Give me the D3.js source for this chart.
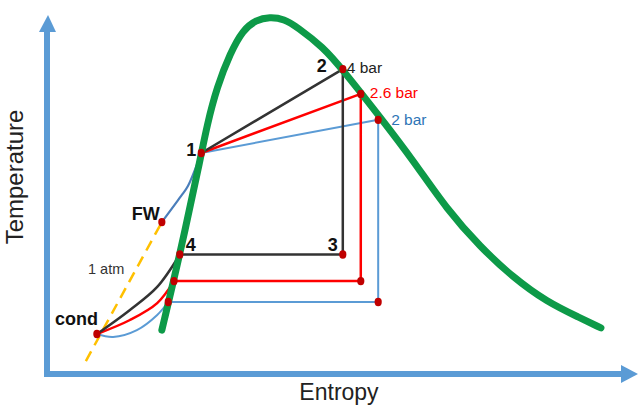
<!DOCTYPE html>
<html><head><meta charset="utf-8">
<script src="https://cdn.jsdelivr.net/npm/d3@7"></script>
<style>body{margin:0;background:#fff}svg{display:block}</style>
</head><body>
<svg id="c" width="640" height="406"></svg>
<script>
// Saturation dome (entropy s, temperature T) in arbitrary units
const domeS = [19.8,22.9,26.4,27.6,29.3,31.6,33.8,36.0,38.4,40.9,43.1,47.6,50.9,57.8,63.1,69.0,74.7,80.3,86.2,91.9,95.5];
const domeT = [12.2,33.1,59.4,69.2,79.7,89.2,95.6,98.3,99.2,98.6,96.4,90.8,84.7,70.6,59.4,45.6,35.3,26.9,20.0,15.6,12.8];

// Cycle states per pressure
const pressures = ["4 bar","2.6 bar","2 bar"];
const state1 = [26.6, 61.4];
const state2S = [51.0, 54.1, 57.1];
const state2T = [84.7, 77.8, 70.6];
const state3T = [33.2, 25.8, 20.0];
const state4S = [22.9, 21.9, 20.9];
const cond = [8.6, 11.1];
const fw = [19.8, 42.2];
// pump/condensate curves (cond -> state 4) intermediate points
const curveS = [[14.3,19.0],[14.3,19.0],[11.4,15.5,19.0]];
const curveT = [[17.8,24.2],[15.0,19.7],[10.3,12.2,16.4]];
// feedwater heating line FW -> 1
const fwLineS = [23.1, 24.3];
const fwLineT = [49.4, 52.2];
// 1 atm line
const atmS = [6.7, 19.8];
const atmT = [3.6, 42.2];

const lineColors = ["#333333","#ff0000","#5b9bd5"];
const labelColors = ["#222222","#ff0000","#2e75b6"];

const svg = d3.select("#c");
const x = d3.scaleLinear().domain([0,100]).range([47,627]);
const y = d3.scaleLinear().domain([0,100]).range([374,14]);
const line = d3.line().x(d=>x(d[0])).y(d=>y(d[1]));
const curved = d3.line().x(d=>x(d[0])).y(d=>y(d[1])).curve(d3.curveCatmullRom.alpha(0.5));
const smooth = d3.line().x(d=>x(d[0])).y(d=>y(d[1])).curve(d3.curveBasis);
const FONT = "'Liberation Sans', Arial, sans-serif";

// axes
const axC = "#5b9bd5";
svg.append("path").attr("d", `M${x(0)},${y(0)+3}V${y(100)+18}`)
  .attr("stroke",axC).attr("stroke-width",6).attr("fill","none");
svg.append("path").attr("d", `M${x(0)-8},${y(100)+18}L${x(0)+1},${y(100)+1}L${x(0)+9},${y(100)+18}Z`).attr("fill",axC);
svg.append("path").attr("d", `M${x(0)-3},${y(0)}H${x(100)-5}`)
  .attr("stroke",axC).attr("stroke-width",6).attr("fill","none");
svg.append("path").attr("d", `M${x(100)-6},${y(0)-9}L${x(100)+11},${y(0)}L${x(100)-6},${y(0)+9}Z`).attr("fill",axC);

svg.append("text").attr("transform",`translate(23,177) rotate(-90)`)
  .attr("text-anchor","middle").attr("font-family",FONT).attr("font-size",24).attr("fill","#222").text("Temperature");
svg.append("text").attr("x",339).attr("y",400)
  .attr("text-anchor","middle").attr("font-family",FONT).attr("font-size",23).attr("fill","#222").text("Entropy");

// 1 atm dashed
svg.append("path").attr("d", line(atmS.map((s,i)=>[s,atmT[i]])))
  .attr("stroke","#ffc000").attr("stroke-width",2.5).attr("stroke-dasharray","11,7").attr("fill","none");

// FW -> 1 line
svg.append("path").attr("d", curved([fw, ...fwLineS.map((s,i)=>[s,fwLineT[i]]), state1]))
  .attr("stroke","#4a7ebb").attr("stroke-width",2.2).attr("fill","none");

// cycles (draw blue first, black last)
[2,1,0].forEach(i=>{
  const c = lineColors[i];
  const w = i===2 ? 2 : 2.5;
  svg.append("path").attr("d", line([state1,[state2S[i],state2T[i]],[state2S[i],state3T[i]],[state4S[i],state3T[i]]]))
    .attr("stroke",c).attr("stroke-width",w).attr("fill","none").attr("stroke-linejoin","round");
  const pts = [cond, ...curveS[i].map((s,k)=>[s,curveT[i][k]]), [state4S[i],state3T[i]]];
  svg.append("path").attr("d", curved(pts))
    .attr("stroke",c).attr("stroke-width",w).attr("fill","none");
});

// dome
svg.append("path").attr("d", smooth(domeS.map((s,i)=>[s,domeT[i]])))
  .attr("stroke","#0d9a48").attr("stroke-width",7).attr("fill","none").attr("stroke-linecap","round");

// dots
const dots = [state1, cond, fw];
pressures.forEach((p,i)=>{
  dots.push([state2S[i],state2T[i]],[state2S[i],state3T[i]],[state4S[i],state3T[i]]);
});
svg.selectAll("ellipse.dot").data(dots).join("ellipse").attr("class","dot")
  .attr("cx",d=>x(d[0])).attr("cy",d=>y(d[1])).attr("rx",3.6).attr("ry",4.2).attr("fill","#c00000");

// labels
const bold = (t,px,py,anchor)=>svg.append("text").attr("x",px).attr("y",py).attr("text-anchor",anchor||"start")
  .attr("font-family",FONT).attr("font-weight","bold").attr("font-size",18).attr("fill","#111").text(t);
bold("1", x(state1[0])-5, y(state1[1])+3, "end");
bold("2", x(state2S[0])-16, y(state2T[0])+3, "end");
bold("3", x(state2S[0])-5, y(state3T[0])-3, "end");
bold("4", x(state4S[0])+6, y(state3T[0])-3, "start");
bold("FW", x(fw[0])-2, y(fw[1])-2, "end");
bold("cond", x(cond[0])+1, y(cond[1])-9, "end");

pressures.forEach((p,i)=>{
  svg.append("text").attr("x",x(state2S[i])+(i===2?13:(i===1?9:4))).attr("y",y(state2T[i])+4+(i===2?1:0))
    .attr("font-family",FONT).attr("font-size",15.5).attr("fill",labelColors[i]).text(p);
});
svg.append("text").attr("x",88).attr("y",274).attr("font-family",FONT).attr("font-size",14.5).attr("fill","#333").text("1 atm");
</script>
</body></html>
